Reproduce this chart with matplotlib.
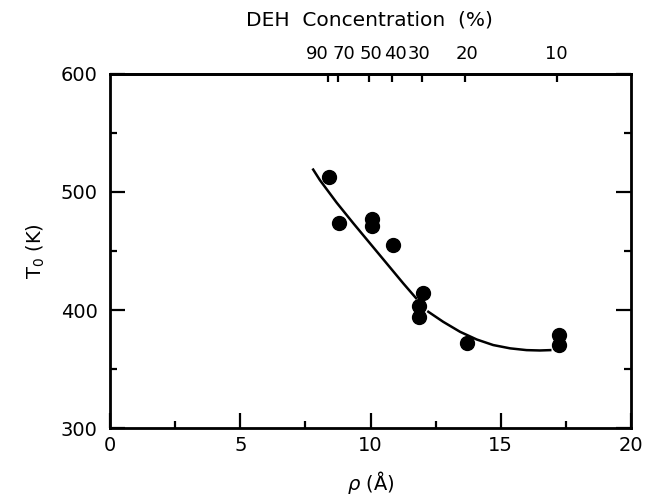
import numpy as np
import matplotlib.pyplot as plt
from matplotlib.ticker import MultipleLocator

plt.rcParams['font.family'] = ['DejaVu Sans']
plt.rcParams['mathtext.fontset'] = 'dejavusans'

# measured points: rho (Angstrom) vs T0 (K)
rho = [8.4, 8.8, 10.05, 10.05, 10.85, 12.0, 11.85, 11.85, 13.7, 17.25, 17.25]
t0 = [513, 473.5, 477.5, 471, 455.5, 414, 403, 394, 372, 379, 370]

# fitted curve, drawn in two pieces (broken where it passes the points)
fit_rho_a = [7.8, 8.06, 8.7, 9.34, 9.98, 10.62, 11.26, 11.75]
fit_t0_a = [519, 510, 491, 473.5, 456.5, 439.5, 422.5, 410]
fit_rho_b = [12.22, 12.79, 13.44, 14.08, 14.71, 15.36, 15.99, 16.5, 16.9]
fit_t0_b = [398.5, 390, 381.5, 375, 370.3, 367.5, 366, 365.7, 366]

# DEH concentration scale on the top axis
deh_ticks = [8.37, 8.75, 9.95, 10.81, 11.96, 13.63, 17.15]
deh_label_pos = [7.95, 8.98, 10.02, 10.94, 11.88, 13.7, 17.12]
deh_labels = ['90', '70', '50', '40', '30', '20', '10']

fig = plt.figure(figsize=(6.53, 4.98), dpi=100)
ax = fig.add_axes([110/653, 1 - 428/498, 521/653, 354/498])

ax.plot(fit_rho_a, fit_t0_a, color='black', lw=1.8)
ax.plot(fit_rho_b, fit_t0_b, color='black', lw=1.8)
ax.plot(rho, t0, 'o', color='black', ms=10)

ax.set_xlim(0, 20)
ax.set_ylim(300, 600)
ax.xaxis.set_major_locator(MultipleLocator(5))
ax.xaxis.set_minor_locator(MultipleLocator(2.5))
ax.yaxis.set_major_locator(MultipleLocator(100))
ax.yaxis.set_minor_locator(MultipleLocator(50))
ax.tick_params(which='both', direction='in', top=False, right=True,
               width=1.6, labelsize=14)
ax.tick_params(which='major', length=11)
ax.tick_params(which='minor', length=5)
ax.tick_params(axis='y', pad=9)
ax.tick_params(axis='x', pad=6)
for s in ax.spines.values():
    s.set_linewidth(2)

ax.set_xlabel(r'$\rho$ (Å)', fontsize=14, labelpad=10)
ax.set_ylabel(r'T$_0$ (K)', fontsize=14, labelpad=10)

ax2 = ax.twiny()
ax2.set_xlim(0, 20)
ax2.set_xticks(deh_ticks, [''] * len(deh_ticks))
ax2.set_xticks(deh_label_pos, deh_labels, minor=True)
ax2.tick_params(which='major', direction='in', length=6, width=1.6)
ax2.tick_params(which='minor', length=0, pad=8, labelsize=13)
ax2.spines['top'].set_linewidth(2)

fig.text(369/653, 1 - 20/498, 'DEH  Concentration  (%)', ha='center',
         va='center', fontsize=14.5)

fig.savefig('out.png', dpi=100)
